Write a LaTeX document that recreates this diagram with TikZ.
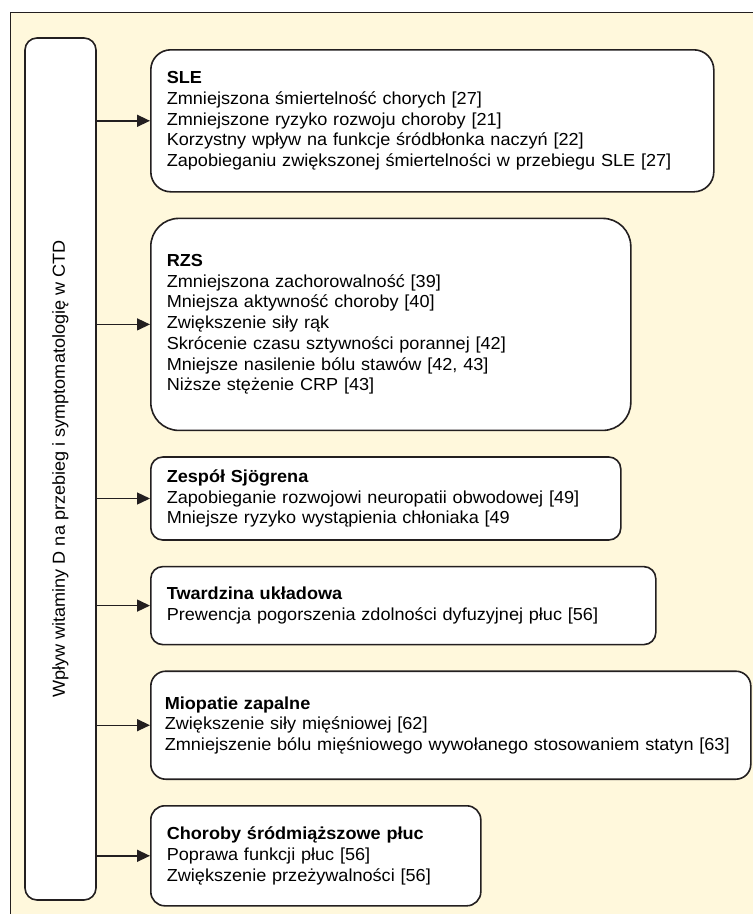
\documentclass[tikz,border=0pt]{standalone}
\usepackage{fontspec}
\setmainfont{Liberation Sans}[FakeStretch=1.04]
\usetikzlibrary{arrows.meta, positioning}
\definecolor{vdcream}{HTML}{FFF8DC}
\definecolor{vdline}{HTML}{231F20}

\begin{document}
\begin{tikzpicture}[x=1pt, y=-1pt, font=\fontsize{17.4}{20.7}\selectfont, node distance=25pt,
     box/.style={draw=vdline, line width=1.6pt, fill=white, align=left, inner xsep=16pt, inner ysep=0pt, rounded corners=12pt},
     a/.style={-{Triangle[length=13pt, width=12pt]}, line width=1.4pt, vdline}]
    \useasboundingbox (0,0) rectangle (753,914);
    \draw[vdline, line width=1pt, fill=vdcream] (10,12) rectangle (780,940);
    \node[box, rotate=90, align=center, minimum width=862pt, minimum height=71pt] (vitd) at (60.5,469)
      {Wpływ witaminy D na przebieg i symptomatologię w CTD};
    \node[box, anchor=north west, rounded corners=20pt, text width=531pt, minimum height=142pt] (sle) at (150,49)
      {\textbf{SLE}\\Zmniejszona śmiertelność chorych [27]\\Zmniejszone ryzyko rozwoju choroby [21]\\Korzystny wpływ na funkcje śródbłonka naczyń [22]\\Zapobieganiu zwiększonej śmiertelności w przebiegu SLE [27]};
    \node[box, below=of sle.south west, anchor=north west, rounded corners=28pt, text width=448pt, minimum height=212pt] (rzs)
      {\textbf{RZS}\\Zmniejszona zachorowalność [39]\\Mniejsza aktywność choroby [40]\\Zwiększenie siły rąk\\Skrócenie czasu sztywności porannej [42]\\Mniejsze nasilenie bólu stawów [42, 43]\\Niższe stężenie CRP [43]};
    \node[box, below=of rzs.south west, anchor=north west, text width=438pt, minimum height=83pt] (sjo)
      {\textbf{Zespół Sjögrena}\\Zapobieganie rozwojowi neuropatii obwodowej [49]\\Mniejsze ryzyko wystąpienia chłoniaka [49};
    \node[box, below=of sjo.south west, anchor=north west, text width=473pt, minimum height=78pt] (tw)
      {\textbf{Twardzina układowa}\\Prewencja pogorszenia zdolności dyfuzyjnej płuc [56]};
    \node[box, below=of tw.south west, anchor=north west, rounded corners=15pt, inner xsep=14pt, text width=572pt, minimum height=108pt] (mio)
      {\textbf{Miopatie zapalne}\\Zwiększenie siły mięśniowej [62]\\Zmniejszenie bólu mięśniowego wywołanego stosowaniem statyn [63]};
    \node[box, below=of mio.south west, anchor=north west, rounded corners=14pt, text width=298pt, minimum height=100pt] (chp)
      {\textbf{Choroby śródmiąższowe płuc}\\Poprawa funkcji płuc [56]\\Zwiększenie przeżywalności [56]};
    \foreach \t in {sle, rzs, sjo, tw, mio, chp}
      \draw[a] (vitd.south |- \t.west) -- (\t.west);
  \end{tikzpicture}
\end{document}
